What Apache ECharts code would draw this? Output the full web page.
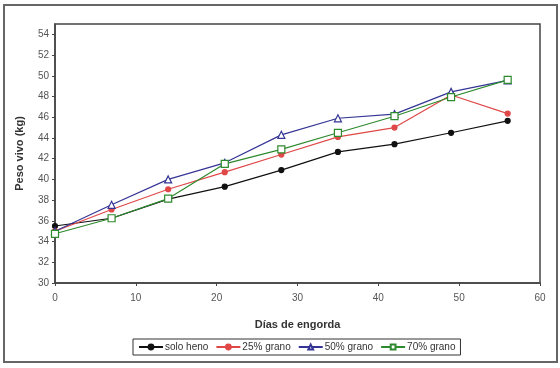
<!DOCTYPE html>
<html>
<head>
<meta charset="utf-8">
<script src="https://cdn.jsdelivr.net/npm/echarts@6/dist/echarts.min.js"></script>
<style>html,body{margin:0;padding:0;background:#fff}#c{width:560px;height:368px}</style>
</head>
<body>
<div id="c"></div>
<script>
const days = [0, 7, 14, 21, 28, 35, 42, 49, 56];
const soloHeno = [35.5, 36.25, 38.1, 39.3, 40.9, 42.65, 43.4, 44.5, 45.65];
const grano25 = [35.0, 37.1, 39.05, 40.7, 42.4, 44.1, 45.0, 48.15, 46.35];
const grano50 = [35.0, 37.55, 40.0, 41.6, 44.3, 45.9, 46.3, 48.45, 49.55];
const grano70 = [34.75, 36.25, 38.15, 41.5, 42.9, 44.5, 46.1, 47.95, 49.6];
const seriesNames = ['solo heno', '25% grano', '50% grano', '70% grano'];
const xTitle = 'Días de engorda';
const yTitle = 'Peso vivo (kg)';

const pair = arr => days.map((d, i) => [d, arr[i]]);
const font = 'Liberation Sans, Arial, sans-serif';
const chart = echarts.init(document.getElementById('c'));
const mk = (name, data, color, symbol, fill) => ({
  name, type: 'line', data: pair(data), symbol, symbolSize: symbol === 'circle' ? 5 : 7,
  lineStyle: { color, width: 1.2 },
  itemStyle: { color: fill, borderColor: color, borderWidth: 1.2 },
  color, animation: false
});
chart.setOption({
  animation: false,
  graphic: [{ type: 'rect', shape: { x: 4, y: 5, width: 553, height: 357 },
    style: { fill: 'none', stroke: '#666', lineWidth: 2 }, silent: true }],
  grid: { left: 55, right: 20, top: 24, bottom: 85, show: true, borderColor: '#444', borderWidth: 1.5, backgroundColor: 'transparent' },
  xAxis: {
    type: 'value', min: 0, max: 60, interval: 10,
    name: xTitle, nameLocation: 'middle', nameGap: 36,
    nameTextStyle: { fontFamily: font, fontSize: 11, fontWeight: 'bold', color: '#333' },
    axisLine: { show: true, lineStyle: { color: '#444', width: 1.5 } },
    axisTick: { show: true, length: 3, lineStyle: { color: '#444' } },
    axisLabel: { fontFamily: font, fontSize: 10, color: '#555', margin: 10 },
    splitLine: { show: false }
  },
  yAxis: {
    type: 'value', min: 30, max: 55, interval: 2,
    name: yTitle, nameLocation: 'middle', nameGap: 30, nameRotate: 90,
    nameTextStyle: { fontFamily: font, fontSize: 11, fontWeight: 'bold', color: '#333' },
    axisLine: { show: true, lineStyle: { color: '#444', width: 1.5 } },
    axisTick: { show: true, length: 3, lineStyle: { color: '#444' } },
    axisLabel: { fontFamily: font, fontSize: 10, color: '#555', margin: 6, showMaxLabel: false },
    splitLine: { show: false }
  },
  legend: {
    data: seriesNames, left: 133, top: 339, orient: 'horizontal',
    borderColor: '#333', borderWidth: 1, padding: [3, 5, 3, 5],
    itemWidth: 24, itemHeight: 6, itemGap: 7,
    textStyle: { fontFamily: font, fontSize: 10, color: '#333', padding: [0, 0, 0, -3] }
  },
  series: [
    mk(seriesNames[0], soloHeno, '#111', 'circle', '#111'),
    mk(seriesNames[1], grano25, '#e04848', 'circle', '#e04848'),
    mk(seriesNames[2], grano50, '#353595', 'triangle', '#fff'),
    mk(seriesNames[3], grano70, '#2e8a2e', 'rect', '#fff')
  ]
});
</script>
</body>
</html>
